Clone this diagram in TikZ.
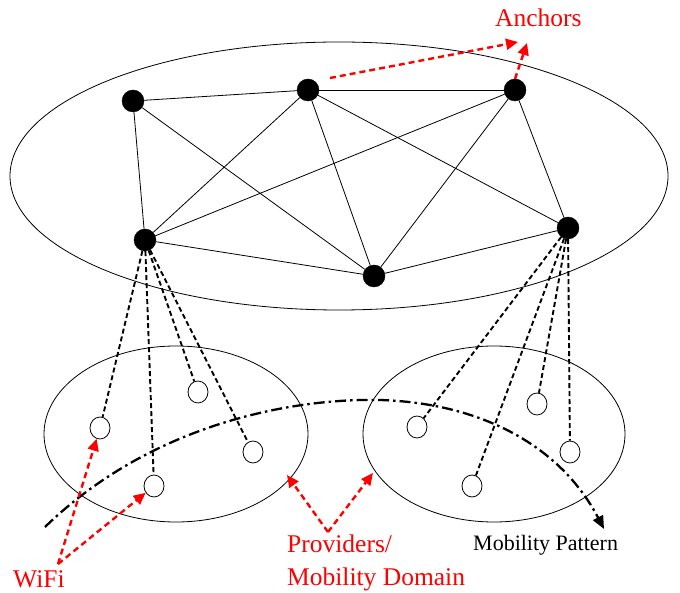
\documentclass[tikz,border=0pt]{standalone}
\usepackage{fontspec}
\setmainfont{Liberation Serif}
\usetikzlibrary{arrows.meta,shapes.geometric}

\tikzset{
  anchornode/.style={circle,fill=black,draw=black,inner sep=0pt,minimum size=22pt},
  apnode/.style={ellipse,draw=black,line width=0.8pt,fill=white,inner sep=0pt,
    minimum width=20pt,minimum height=22pt},
  domainellipse/.style={ellipse,draw=black,line width=0.8pt,inner sep=0pt},
  mesh/.style={draw=black,line width=0.8pt},
  attach/.style={draw=black,line width=1.9pt,dash pattern=on 5pt off 3pt},
  callout/.style={draw=red,line width=2.4pt,dash pattern=on 6pt off 4pt,
    -{Triangle[length=12pt,width=11pt]},shorten >=0pt},
  mobility/.style={draw=black,line width=2.3pt,
    dash pattern=on 11pt off 4pt on 2.5pt off 4pt,
    -{Triangle[length=13pt,width=11pt]}},
  redlabel/.style={text=red,font=\fontsize{25.5}{33}\selectfont,inner sep=0pt},
  blacklabel/.style={text=black,font=\fontsize{22}{26}\selectfont,inner sep=0pt}
}

\begin{document}
\begin{tikzpicture}[x=1pt,y=-1pt]
\useasboundingbox (0,0) rectangle (680,593);

% core (anchor) network and the two provider domains
\node[domainellipse,minimum width=658pt,minimum height=268pt] (core) at (339,176) {};
\node[domainellipse,minimum width=264pt,minimum height=176pt] (domL) at (176,434) {};
\node[domainellipse,minimum width=262pt,minimum height=176pt] (domR) at (494,434) {};

% anchors
\node[anchornode] (a1) at (133,101) {};
\node[anchornode] (a2) at (308,90) {};
\node[anchornode] (a3) at (515,90) {};
\node[anchornode] (a4) at (145,240) {};
\node[anchornode] (a5) at (374,276) {};
\node[anchornode] (a6) at (568,228) {};

\foreach \u/\v in {a1/a2,a2/a3,a1/a4,a1/a5,a2/a4,a2/a5,a2/a6,a3/a4,a3/a5,a3/a6,a4/a5,a5/a6}
  \draw[mesh] (\u) -- (\v);

% access points
\node[apnode] (l1) at (100,428) {};
\node[apnode] (l2) at (198,392) {};
\node[apnode] (l3) at (253,452) {};
\node[apnode] (l4) at (154,486) {};
\node[apnode] (r1) at (417,427) {};
\node[apnode] (r2) at (537,404) {};
\node[apnode] (r3) at (570,452) {};
\node[apnode] (r4) at (472,486) {};

\foreach \p in {l1,l2,l3,l4}
  \draw[attach] (a4) -- (\p);
\foreach \p in {r1,r2,r3,r4}
  \draw[attach] (a6) -- (\p);

% mobility pattern
\coordinate (mpS) at (45,527);
\coordinate (mpM) at (380,400);
\coordinate (mpE) at (604,529);
\draw[mobility] (mpS) .. controls (150,425) and (290,398) .. (mpM)
  .. controls (480,403) and (560,445) .. (mpE);

% labels
\node[redlabel,anchor=base west] (anc) at (495,27) {Anchors};
\node[redlabel,anchor=base west] (wifi) at (13,587) {WiFi};
\node[redlabel,anchor=base west] (prov1) at (287,552) {Providers/};
\node[redlabel,anchor=base west] (prov2) at (287,585) {Mobility Domain};
\node[blacklabel,anchor=base west] (mob) at (473,550) {Mobility Pattern};

% red callouts
\coordinate (ancS1) at (330,78);
\coordinate (ancT1) at (518,42);
\coordinate (ancS2) at (515,79);
\coordinate (ancT2) at (527,43);
\draw[callout] (ancS1) -- (ancT1);
\draw[callout] (ancS2) -- (ancT2);

\coordinate (wifiS) at (58,564);
\draw[callout] (wifiS) -- (l1);
\draw[callout] (wifiS) -- (l4);

\coordinate (provS) at (328,532);
\coordinate (provT1) at (287,475);
\coordinate (provT2) at (373,473);
\draw[callout] (provS) -- (provT1);
\draw[callout] (provS) -- (provT2);
\end{tikzpicture}
\end{document}
